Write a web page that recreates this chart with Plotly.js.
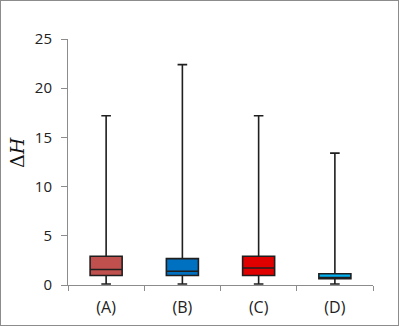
<!DOCTYPE html>
<html>
<head>
<meta charset="utf-8">
<script src="https://cdn.plot.ly/plotly-3.0.1.min.js"></script>
<style>
  body { margin: 0; background: #fff; }
  #wrap { position: relative; width: 399px; height: 326px; }
  #chart { width: 399px; height: 326px; }
  #frame { position: absolute; left: 0; top: 0; width: 397px; height: 324px; border: 1px solid #8c8c8c; pointer-events: none; }
</style>
</head>
<body>
<div id="wrap">
  <div id="chart"></div>
  <div id="frame"></div>
</div>
<script>
const categories = ['(A)', '(B)', '(C)', '(D)'];
const lowValues = [0.1, 0.1, 0.1, 0.1];
const q1Values = [0.96, 0.96, 0.96, 0.65];
const medianValues = [1.57, 1.39, 1.73, 0.65];
const q3Values = [2.92, 2.68, 2.92, 1.15];
const highValues = [17.2, 22.4, 17.2, 13.4];
const boxColors = ['#c0504d', '#0070c0', '#e00000', '#00b0f0'];

const traces = categories.map(function (cat, i) {
    return {
        type: 'box',
        x: [cat],
        q1: [q1Values[i]],
        median: [medianValues[i]],
        q3: [q3Values[i]],
        lowerfence: [lowValues[i]],
        upperfence: [highValues[i]],
        fillcolor: boxColors[i],
        line: { color: '#1f1f1f', width: 1.6 },
        width: 0.42,
        whiskerwidth: 0.3,
        showlegend: false,
        hoverinfo: 'skip'
    };
});

const layout = {
    width: 399,
    height: 326,
    margin: { l: 68, r: 26, t: 39, b: 41 },
    paper_bgcolor: '#ffffff',
    plot_bgcolor: '#ffffff',
    font: { family: 'Open Sans, sans-serif', size: 15, color: '#222' },
    boxmode: 'overlay',
    xaxis: {
        type: 'category',
        categoryorder: 'array',
        categoryarray: categories,
        range: [-0.5, 3.5],
        showline: true,
        linecolor: '#8c8c8c',
        linewidth: 1,
        ticks: 'outside',
        tickson: 'boundaries',
        ticklen: 5,
        tickcolor: '#8c8c8c',
        ticklabelstandoff: 8,
        showgrid: false,
        zeroline: false,
        tickfont: { size: 16, color: '#222' }
    },
    yaxis: {
        range: [0, 25],
        dtick: 5,
        showline: true,
        linecolor: '#8c8c8c',
        linewidth: 1,
        ticks: 'outside',
        ticklen: 6,
        tickcolor: '#8c8c8c',
        ticklabelstandoff: 6,
        showgrid: false,
        zeroline: false,
        tickfont: { size: 15, color: '#222' }
    },
    annotations: [{
        text: 'Δ<i>H</i>',
        xref: 'paper',
        yref: 'paper',
        x: -0.168,
        y: 0.54,
        xanchor: 'center',
        yanchor: 'middle',
        textangle: -90,
        showarrow: false,
        font: { family: 'DejaVu Serif, serif', size: 19, color: '#111' }
    }]
};

Plotly.newPlot('chart', traces, layout, { displayModeBar: false, staticPlot: true });
</script>
</body>
</html>
